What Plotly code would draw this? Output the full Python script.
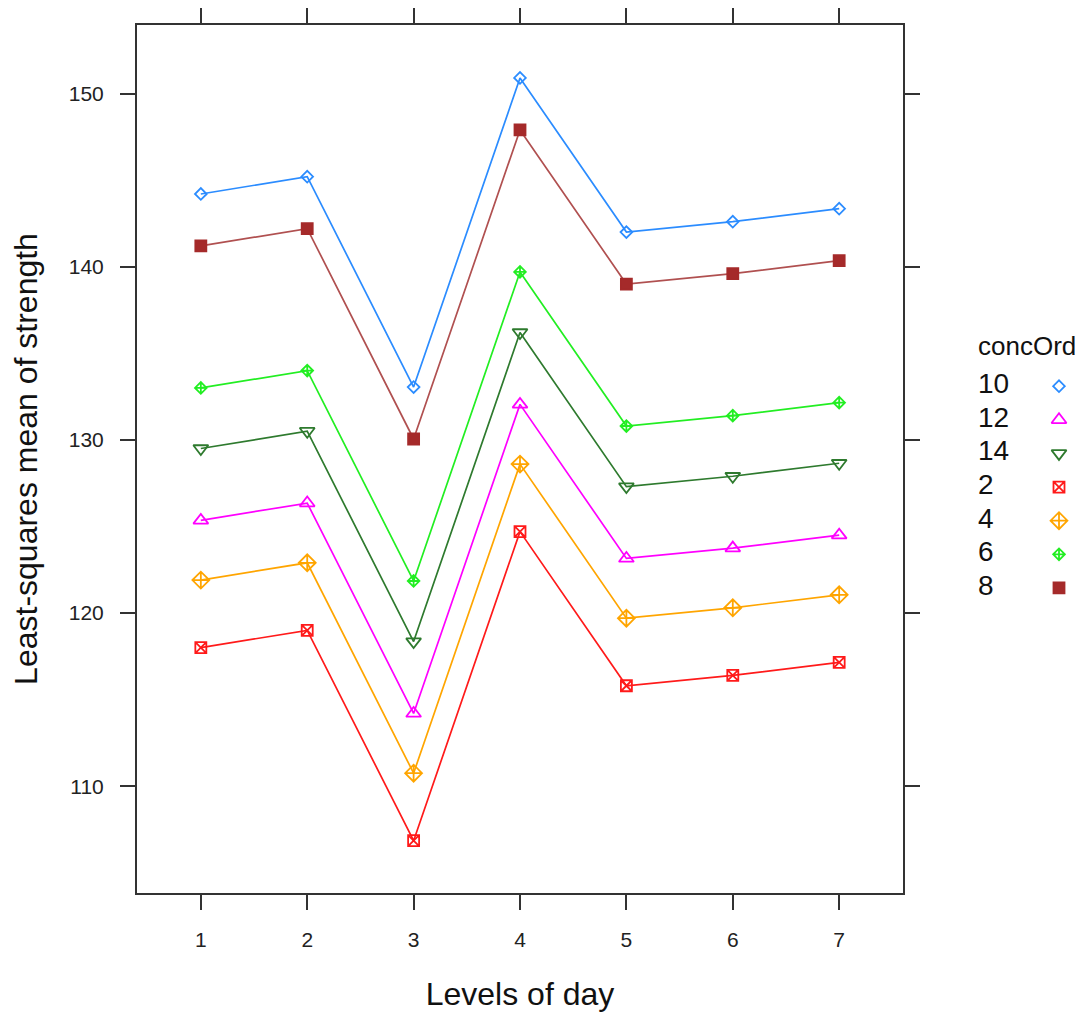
import plotly.graph_objects as go

days = [1, 2, 3, 4, 5, 6, 7]
day_labels = ["1", "2", "3", "4", "5", "6", "7"]
series_names = ["10", "12", "14", "2", "4", "6", "8"]

s10 = [144.2, 145.2, 133.05, 150.9, 142.0, 142.6, 143.35]
s12 = [125.35, 126.35, 114.2, 132.05, 123.15, 123.75, 124.5]
s14 = [129.5, 130.5, 118.35, 136.2, 127.3, 127.9, 128.65]
s2 = [118.0, 119.0, 106.85, 124.7, 115.8, 116.4, 117.15]
s4 = [121.9, 122.9, 110.75, 128.6, 119.7, 120.3, 121.05]
s6 = [133.0, 134.0, 121.85, 139.7, 130.8, 131.4, 132.15]
s8 = [141.2, 142.2, 130.05, 147.9, 139.0, 139.6, 140.35]

values = {"10": s10, "12": s12, "14": s14, "2": s2, "4": s4, "6": s6, "8": s8}

style = {
    "10": dict(color="#2B8CFF", symbol="diamond-open", size=9),
    "12": dict(color="#FF00FF", symbol="triangle-up-open", size=13),
    "14": dict(color="#2E7A2E", symbol="triangle-down-open", size=13),
    "2": dict(color="#FF1A1A", symbol="square-x-open", size=11),
    "4": dict(color="#FFA500", symbol="diamond-cross-open", size=13),
    "6": dict(color="#22EE22", symbol="diamond-cross-open", size=9),
    "8": dict(color="#A52A2A", symbol="square", size=11),
}
line_colors = {"8": "#B05050"}
FONT = "Liberation Sans, Arial, sans-serif"

fig = go.Figure()
for name in series_names:
    st = style[name]
    fig.add_trace(go.Scatter(
        x=days, y=values[name], mode="lines+markers", name=name,
        line=dict(color=line_colors.get(name, st["color"]), width=1.7),
        marker=dict(symbol=st["symbol"], size=st["size"], color=st["color"],
                    line=dict(color=st["color"], width=1.8)),
        showlegend=False, xaxis="x", yaxis="y",
    ))

# page body has an 8px margin; layout below is expressed in figure pixels
W, H = 1075, 1005
L, R_, T, B = 129, 0, 15, 120
plot_w = W - L - R_
x_dom_end = (895 - L) / plot_w
LEG_X0 = 930
x2_start = (LEG_X0 - L) / plot_w

# custom legend (text left, symbol right) on an overlay axis
rows = list(range(len(series_names)))
fig.add_trace(go.Scatter(
    x=[970] * len(series_names), y=rows, mode="text", text=series_names,
    textposition="middle right",
    textfont=dict(size=28, color="#111111", family=FONT),
    showlegend=False, hoverinfo="skip", xaxis="x2", yaxis="y2",
))
for i, name in enumerate(series_names):
    st = style[name]
    fig.add_trace(go.Scatter(
        x=[1051], y=[rows[i]], mode="markers",
        marker=dict(symbol=st["symbol"], size=st["size"], color=st["color"],
                    line=dict(color=st["color"], width=1.8)),
        showlegend=False, hoverinfo="skip", xaxis="x2", yaxis="y2",
    ))

axis_common = dict(
    showline=True, linecolor="#333333", linewidth=2, mirror="ticks",
    ticks="outside", ticklen=15, tickwidth=1.6, tickcolor="#333333",
    showgrid=False, zeroline=False,
    tickfont=dict(size=21, color="#222222", family=FONT),
)

fig.update_layout(
    width=W, height=H,
    margin=dict(l=L, r=R_, t=T, b=B),
    paper_bgcolor="white", plot_bgcolor="white",
    font=dict(family=FONT, color="#111111"),
    xaxis=dict(domain=[0, x_dom_end], range=[0.4, 7.6], tickvals=days,
               ticktext=day_labels, ticklabelstandoff=12,
               title=dict(text="Levels of day", font=dict(size=32), standoff=32),
               **axis_common),
    yaxis=dict(range=[103.83, 153.96], tickvals=[110, 120, 130, 140, 150],
               ticklabelstandoff=12,
               title=dict(text="Least-squares mean of strength", font=dict(size=32),
                          standoff=24),
               **axis_common),
    xaxis2=dict(domain=[x2_start, 1], range=[LEG_X0, W], visible=False,
                fixedrange=True),
    yaxis2=dict(domain=[0, 1], range=[15.074, -10.742], visible=False,
                anchor="x2", fixedrange=True),
    annotations=[dict(text="concOrd", xref="x2", yref="y2", x=968, y=-1.19,
                      xanchor="left", yanchor="middle", showarrow=False,
                      font=dict(size=26, color="#111111", family=FONT))],
)

fig.write_html("out.html")
